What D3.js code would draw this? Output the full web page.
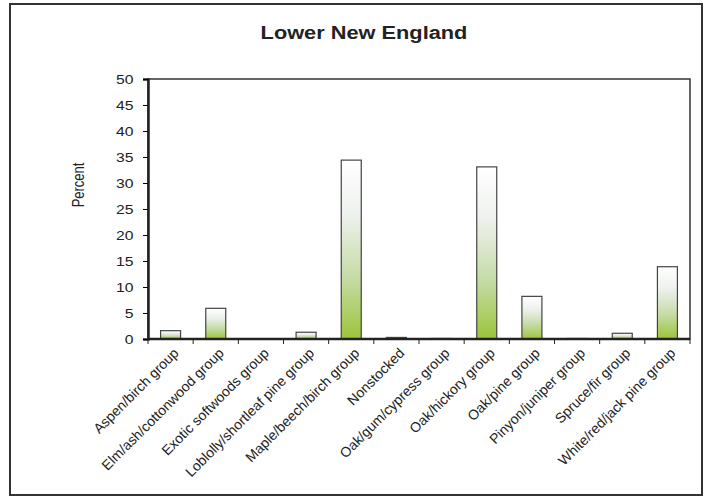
<!DOCTYPE html>
<meta charset="utf-8">
<head>
<script src="https://cdn.jsdelivr.net/npm/d3@7"></script>
<style>
  body { margin: 0; background: #fff; }
  text { font-family: "Liberation Sans", Arial, sans-serif; fill: #222; }
</style>
</head>
<body>
<svg id="svg"></svg>
<script>
var categories = ["Aspen/birch group", "Elm/ash/cottonwood group", "Exotic softwoods group",
  "Loblolly/shortleaf pine group", "Maple/beech/birch group", "Nonstocked",
  "Oak/gum/cypress group", "Oak/hickory group", "Oak/pine group",
  "Pinyon/juniper group", "Spruce/fir group", "White/red/jack pine group"];
var percent = [1.6, 5.9, 0, 1.3, 34.4, 0.3, 0.1, 33.1, 8.2, 0.1, 1.1, 13.9];
var yTicks = [0, 5, 10, 15, 20, 25, 30, 35, 40, 45, 50];

var width = 707, height = 497;
var margin = { left: 148, right: 15, top: 79, bottom: 157 };
// the original picture is stretched sideways, horizontal text included
var sx = 1.21;

var svg = d3.select("#svg").attr("width", width).attr("height", height);

// outer frame
svg.append("rect")
  .attr("x", 10).attr("y", 4).attr("width", 692).attr("height", 491)
  .attr("fill", "none").attr("stroke", "#333").attr("stroke-width", 2);

svg.append("text")
  .attr("transform", "translate(364,39) scale(" + sx + ",1)")
  .attr("text-anchor", "middle")
  .attr("font-size", "18px").attr("font-weight", "bold")
  .text("Lower New England");

var x = d3.scaleBand().domain(categories)
  .range([margin.left, width - margin.right - 2]);
var y = d3.scaleLinear().domain([0, 50])
  .range([height - margin.bottom - 1, margin.top]);

// gradient for the bars
var grad = svg.append("defs").append("linearGradient")
  .attr("id", "barFill").attr("x1", 0).attr("y1", 0).attr("x2", 0).attr("y2", 1);
grad.append("stop").attr("offset", "0%").attr("stop-color", "#ffffff");
grad.append("stop").attr("offset", "30%").attr("stop-color", "#eef1ee");
grad.append("stop").attr("offset", "65%").attr("stop-color", "#c6dca8");
grad.append("stop").attr("offset", "100%").attr("stop-color", "#9cc53a");

// plot frame
svg.append("rect")
  .attr("x", x.range()[0]).attr("y", y(50))
  .attr("width", x.range()[1] - x.range()[0]).attr("height", y(0) - y(50))
  .attr("fill", "none").attr("stroke", "#333").attr("stroke-width", 1.5);

var bw = 20;
svg.selectAll(".bar")
  .data(percent)
  .enter().append("rect")
  .attr("class", "bar")
  .attr("x", (d, i) => x(categories[i]) + x.bandwidth() / 2 - bw / 2)
  .attr("y", d => y(d))
  .attr("width", bw)
  .attr("height", d => y(0) - y(d))
  .attr("fill", "url(#barFill)")
  .attr("stroke", "#444").attr("stroke-width", 1.2);

// y axis
var yAxis = svg.append("g")
  .attr("transform", "translate(" + x.range()[0] + ",0)")
  .call(d3.axisLeft(y).tickValues(yTicks).tickSize(5).tickPadding(7));
yAxis.select(".domain").attr("stroke", "#222").attr("stroke-width", 2.5);
yAxis.selectAll(".tick text")
  .attr("font-size", "13px").attr("fill", "#222")
  .attr("transform", "scale(" + sx + ",1)");

// x axis: ticks between categories
var xAxis = svg.append("g").attr("transform", "translate(0," + y(0) + ")");
xAxis.append("line")
  .attr("x1", x.range()[0]).attr("x2", x.range()[1])
  .attr("stroke", "#222").attr("stroke-width", 2.5);
xAxis.selectAll(".tk")
  .data(categories.concat(["end"]))
  .enter().append("line")
  .attr("x1", (d, i) => x.range()[0] + i * x.step())
  .attr("x2", (d, i) => x.range()[0] + i * x.step())
  .attr("y1", 0).attr("y2", 5)
  .attr("stroke", "#222").attr("stroke-width", 1);
xAxis.selectAll(".lbl")
  .data(categories)
  .enter().append("text")
  .attr("transform", d => "translate(" + (x(d) + x.bandwidth() / 2 + 2) + ",8) rotate(-45)")
  .attr("text-anchor", "end")
  .attr("dy", "0.7em")
  .attr("font-size", "14px")
  .text(d => d);

svg.append("text")
  .attr("transform", "translate(84,185) scale(" + sx + ",1) rotate(-90)")
  .attr("text-anchor", "middle")
  .attr("font-size", "13px")
  .text("Percent");
</script>
</body>
